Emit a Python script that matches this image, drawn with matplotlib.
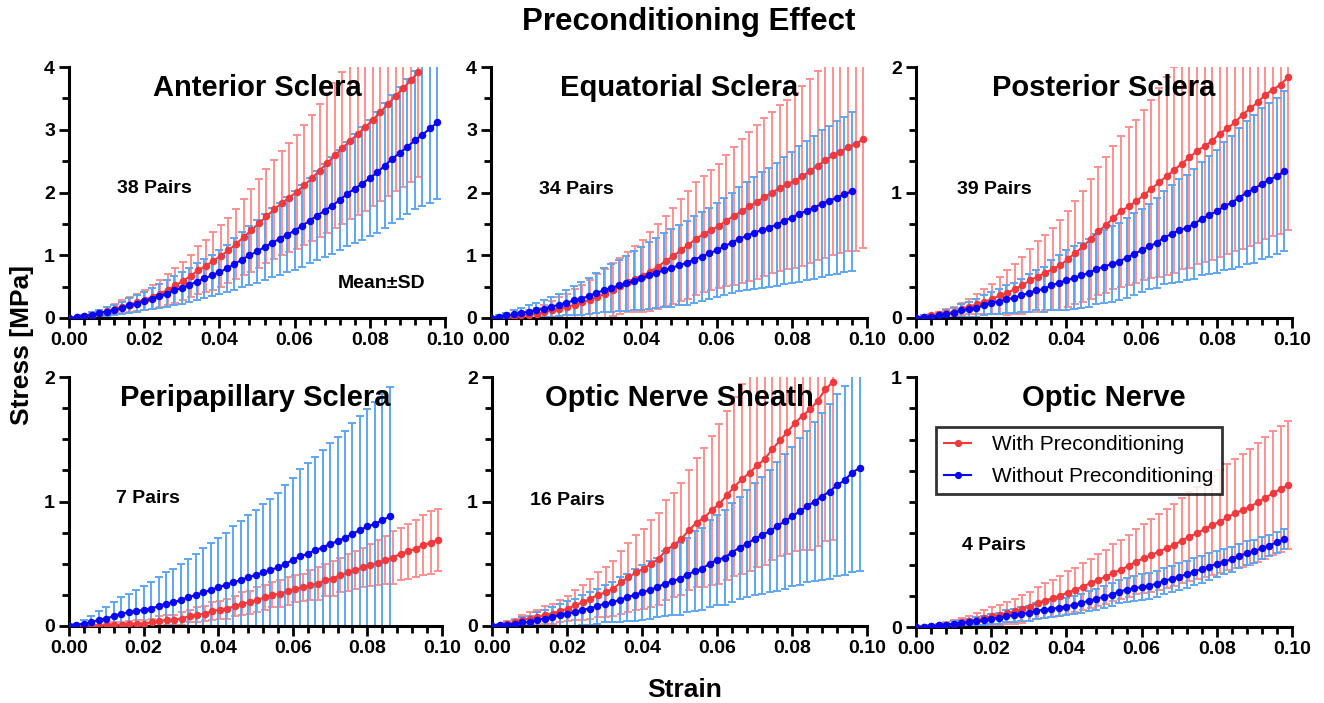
import numpy as np
import matplotlib
matplotlib.use("Agg")
import matplotlib.pyplot as plt
from matplotlib.ticker import MultipleLocator, FixedLocator
from matplotlib.lines import Line2D

plt.rcParams['font.family'] = ['Liberation Sans', 'DejaVu Sans']

# ---------------- data ----------------
# strain sampling grids (blue series sampled every 0.002, red every ~0.00202)
STEP_WITHOUT = 0.002
STEP_WITH = 0.00202

titles = ["Anterior Sclera", "Equatorial Sclera", "Posterior Sclera",
          "Peripapillary Sclera", "Optic Nerve Sheath", "Optic Nerve"]
pairs = ["38 Pairs", "34 Pairs", "39 Pairs", "7 Pairs", "16 Pairs", "4 Pairs"]
y_max = [4, 4, 2, 2, 2, 1]

# Anterior sclera
ant_with_mean = [0.00, 0.01, 0.03, 0.05, 0.08, 0.11, 0.14, 0.18, 0.21, 0.25,
                 0.29, 0.34, 0.39, 0.45, 0.52, 0.59, 0.67, 0.76, 0.83, 0.91,
                 0.99, 1.08, 1.18, 1.29, 1.40, 1.51, 1.62, 1.73, 1.83, 1.92,
                 2.01, 2.12, 2.23, 2.35, 2.47, 2.59, 2.71, 2.82, 2.93, 3.04,
                 3.16, 3.28, 3.41, 3.54, 3.66, 3.79, 3.92]
ant_with_sd = [0.00, 0.01, 0.02, 0.03, 0.05, 0.06, 0.08, 0.10, 0.12, 0.14,
               0.16, 0.19, 0.22, 0.25, 0.28, 0.31, 0.34, 0.38, 0.42, 0.46,
               0.49, 0.52, 0.56, 0.61, 0.66, 0.71, 0.75, 0.79, 0.83, 0.87,
               0.91, 0.96, 1.01, 1.06, 1.11, 1.16, 1.21, 1.25, 1.29, 1.33,
               1.37, 1.42, 1.47, 1.52, 1.57, 1.62, 1.67]
ant_without_mean = [0.00, 0.01, 0.03, 0.05, 0.08, 0.10, 0.13, 0.16, 0.20, 0.23,
                    0.27, 0.31, 0.35, 0.39, 0.44, 0.48, 0.53, 0.58, 0.63, 0.68,
                    0.73, 0.79, 0.86, 0.93, 1.00, 1.06, 1.13, 1.20, 1.26, 1.33,
                    1.39, 1.47, 1.55, 1.63, 1.71, 1.79, 1.88, 1.98, 2.06, 2.14,
                    2.23, 2.32, 2.43, 2.54, 2.63, 2.73, 2.83, 2.92, 3.02, 3.12]
ant_without_sd = [0.00, 0.01, 0.02, 0.04, 0.05, 0.07, 0.08, 0.10, 0.12, 0.13,
                  0.15, 0.17, 0.19, 0.21, 0.23, 0.25, 0.27, 0.29, 0.31, 0.33,
                  0.35, 0.38, 0.41, 0.44, 0.47, 0.50, 0.52, 0.55, 0.58, 0.60,
                  0.63, 0.65, 0.68, 0.71, 0.74, 0.77, 0.80, 0.83, 0.87, 0.90,
                  0.93, 0.96, 0.99, 1.02, 1.05, 1.08, 1.10, 1.14, 1.18, 1.23]

# Equatorial sclera
equ_with_mean = [0.00, 0.00, 0.01, 0.02, 0.04, 0.05, 0.07, 0.09, 0.12, 0.15,
                 0.18, 0.21, 0.25, 0.29, 0.34, 0.39, 0.45, 0.51, 0.57, 0.62,
                 0.67, 0.74, 0.82, 0.91, 0.99, 1.08, 1.17, 1.26, 1.34, 1.40,
                 1.47, 1.55, 1.63, 1.70, 1.78, 1.85, 1.93, 2.00, 2.07, 2.13,
                 2.19, 2.26, 2.34, 2.43, 2.51, 2.59, 2.65, 2.72, 2.77, 2.85]
equ_with_sd = [0.00, 0.01, 0.02, 0.03, 0.05, 0.07, 0.09, 0.12, 0.15, 0.18,
               0.21, 0.25, 0.28, 0.32, 0.36, 0.39, 0.42, 0.45, 0.48, 0.53,
               0.58, 0.63, 0.68, 0.72, 0.76, 0.81, 0.86, 0.90, 0.93, 0.96,
               0.99, 1.04, 1.10, 1.15, 1.19, 1.23, 1.26, 1.29, 1.32, 1.35,
               1.39, 1.43, 1.47, 1.51, 1.55, 1.59, 1.62, 1.66, 1.70, 1.73]
equ_without_mean = [0.00, 0.02, 0.04, 0.06, 0.08, 0.10, 0.12, 0.15, 0.18, 0.21,
                    0.24, 0.28, 0.31, 0.35, 0.40, 0.44, 0.48, 0.52, 0.55, 0.59,
                    0.63, 0.68, 0.72, 0.76, 0.80, 0.84, 0.88, 0.93, 0.98, 1.03,
                    1.08, 1.14, 1.20, 1.26, 1.31, 1.36, 1.40, 1.44, 1.49, 1.55,
                    1.60, 1.66, 1.71, 1.76, 1.82, 1.87, 1.92, 1.97, 2.02]
equ_without_sd = [0.00, 0.02, 0.04, 0.06, 0.08, 0.10, 0.12, 0.14, 0.16, 0.18,
                  0.20, 0.23, 0.26, 0.29, 0.32, 0.35, 0.38, 0.41, 0.44, 0.47,
                  0.50, 0.53, 0.56, 0.59, 0.62, 0.64, 0.67, 0.69, 0.71, 0.73,
                  0.75, 0.78, 0.80, 0.83, 0.86, 0.89, 0.92, 0.95, 0.98, 1.01,
                  1.05, 1.08, 1.11, 1.14, 1.17, 1.19, 1.22, 1.24, 1.27]

# Posterior sclera
pos_with_mean = [0.00, 0.01, 0.02, 0.03, 0.04, 0.05, 0.07, 0.09, 0.11, 0.13,
                 0.15, 0.18, 0.20, 0.23, 0.26, 0.30, 0.33, 0.36, 0.39, 0.42,
                 0.47, 0.52, 0.57, 0.63, 0.69, 0.74, 0.80, 0.85, 0.89, 0.93,
                 0.98, 1.03, 1.08, 1.13, 1.18, 1.23, 1.28, 1.33, 1.37, 1.41,
                 1.47, 1.51, 1.56, 1.62, 1.67, 1.72, 1.78, 1.82, 1.86, 1.92]
pos_with_sd = [0.00, 0.01, 0.01, 0.02, 0.03, 0.04, 0.05, 0.06, 0.08, 0.10,
               0.12, 0.15, 0.18, 0.20, 0.23, 0.25, 0.28, 0.30, 0.33, 0.36,
               0.38, 0.41, 0.44, 0.48, 0.51, 0.54, 0.57, 0.60, 0.63, 0.65,
               0.68, 0.71, 0.75, 0.79, 0.82, 0.84, 0.88, 0.90, 0.92, 0.95,
               0.98, 1.00, 1.03, 1.07, 1.10, 1.12, 1.15, 1.17, 1.19, 1.22]
pos_without_mean = [0.00, 0.01, 0.01, 0.02, 0.03, 0.04, 0.06, 0.07, 0.08, 0.10,
                    0.12, 0.13, 0.15, 0.16, 0.18, 0.20, 0.22, 0.23, 0.26, 0.28,
                    0.30, 0.32, 0.34, 0.36, 0.39, 0.41, 0.43, 0.45, 0.48, 0.51,
                    0.54, 0.57, 0.60, 0.64, 0.67, 0.70, 0.72, 0.75, 0.79, 0.82,
                    0.85, 0.89, 0.92, 0.96, 1.00, 1.03, 1.07, 1.10, 1.13, 1.17]
pos_without_sd = [0.00, 0.01, 0.01, 0.02, 0.03, 0.04, 0.05, 0.06, 0.07, 0.08,
                  0.09, 0.10, 0.11, 0.12, 0.13, 0.15, 0.16, 0.18, 0.20, 0.22,
                  0.24, 0.25, 0.26, 0.27, 0.28, 0.29, 0.30, 0.31, 0.32, 0.33,
                  0.33, 0.34, 0.36, 0.37, 0.39, 0.41, 0.42, 0.44, 0.45, 0.47,
                  0.49, 0.51, 0.53, 0.55, 0.57, 0.59, 0.60, 0.61, 0.62, 0.64]

# Peripapillary sclera
per_with_mean = [0.00, 0.00, 0.00, 0.00, 0.00, 0.01, 0.01, 0.01, 0.02, 0.02,
                 0.02, 0.03, 0.04, 0.05, 0.05, 0.06, 0.08, 0.09, 0.10, 0.12,
                 0.13, 0.14, 0.16, 0.18, 0.19, 0.21, 0.23, 0.25, 0.26, 0.28,
                 0.30, 0.31, 0.33, 0.34, 0.37, 0.38, 0.41, 0.43, 0.45, 0.47,
                 0.49, 0.51, 0.53, 0.55, 0.58, 0.60, 0.62, 0.65, 0.67, 0.69]
per_with_sd = [0.00, 0.00, 0.01, 0.01, 0.01, 0.01, 0.02, 0.02, 0.02, 0.03,
               0.03, 0.03, 0.04, 0.04, 0.04, 0.05, 0.05, 0.06, 0.06, 0.07,
               0.07, 0.08, 0.08, 0.09, 0.09, 0.10, 0.10, 0.10, 0.11, 0.11,
               0.11, 0.11, 0.12, 0.13, 0.13, 0.14, 0.14, 0.15, 0.15, 0.16,
               0.17, 0.18, 0.19, 0.21, 0.21, 0.22, 0.23, 0.24, 0.25, 0.25]
per_without_mean = [0.00, 0.01, 0.02, 0.03, 0.05, 0.06, 0.08, 0.10, 0.11, 0.12,
                    0.13, 0.14, 0.16, 0.18, 0.19, 0.21, 0.23, 0.25, 0.27, 0.29,
                    0.31, 0.33, 0.35, 0.37, 0.39, 0.41, 0.43, 0.45, 0.47, 0.50,
                    0.53, 0.56, 0.58, 0.61, 0.63, 0.66, 0.68, 0.71, 0.74, 0.77,
                    0.80, 0.82, 0.85, 0.88]
per_without_sd = [0.00, 0.01, 0.03, 0.05, 0.07, 0.09, 0.11, 0.13, 0.15, 0.17,
                  0.19, 0.21, 0.23, 0.25, 0.27, 0.29, 0.31, 0.33, 0.36, 0.38,
                  0.40, 0.42, 0.45, 0.47, 0.50, 0.52, 0.55, 0.57, 0.60, 0.63,
                  0.66, 0.70, 0.73, 0.75, 0.78, 0.81, 0.84, 0.86, 0.89, 0.92,
                  0.94, 0.98, 1.01, 1.04]

# Optic nerve sheath
ons_with_mean = [0.00, 0.01, 0.02, 0.03, 0.05, 0.06, 0.07, 0.09, 0.10, 0.12,
                 0.14, 0.17, 0.19, 0.22, 0.25, 0.27, 0.30, 0.35, 0.39, 0.43,
                 0.46, 0.50, 0.54, 0.61, 0.65, 0.70, 0.77, 0.83, 0.87, 0.93,
                 0.98, 1.05, 1.12, 1.18, 1.23, 1.29, 1.34, 1.42, 1.49, 1.56,
                 1.63, 1.69, 1.74, 1.81, 1.90, 1.96]
ons_with_sd = [0.00, 0.01, 0.02, 0.03, 0.04, 0.05, 0.06, 0.07, 0.08, 0.09,
               0.10, 0.12, 0.14, 0.16, 0.18, 0.20, 0.22, 0.25, 0.28, 0.30,
               0.32, 0.35, 0.37, 0.40, 0.42, 0.45, 0.48, 0.52, 0.56, 0.60,
               0.64, 0.68, 0.72, 0.76, 0.79, 0.82, 0.85, 0.89, 0.93, 0.98,
               1.03, 1.08, 1.13, 1.17, 1.22, 1.27]
ons_without_mean = [0.00, 0.01, 0.01, 0.02, 0.03, 0.03, 0.05, 0.06, 0.07, 0.09,
                    0.10, 0.11, 0.13, 0.14, 0.16, 0.18, 0.19, 0.21, 0.23, 0.25,
                    0.27, 0.29, 0.31, 0.34, 0.36, 0.38, 0.41, 0.44, 0.46, 0.50,
                    0.53, 0.55, 0.59, 0.63, 0.66, 0.70, 0.73, 0.76, 0.80, 0.84,
                    0.88, 0.92, 0.96, 1.00, 1.04, 1.08, 1.13, 1.17, 1.23, 1.27]
ons_without_sd = [0.00, 0.01, 0.02, 0.03, 0.04, 0.05, 0.06, 0.07, 0.08, 0.09,
                  0.10, 0.11, 0.12, 0.13, 0.14, 0.15, 0.16, 0.18, 0.19, 0.21,
                  0.22, 0.23, 0.24, 0.26, 0.27, 0.29, 0.30, 0.32, 0.33, 0.35,
                  0.36, 0.38, 0.40, 0.41, 0.43, 0.45, 0.47, 0.49, 0.52, 0.54,
                  0.56, 0.59, 0.61, 0.64, 0.67, 0.70, 0.73, 0.76, 0.80, 0.83]

# Optic nerve
on_with_mean = [0.000, 0.001, 0.003, 0.007, 0.009, 0.013, 0.019, 0.023, 0.029, 0.036,
                0.043, 0.049, 0.056, 0.063, 0.073, 0.082, 0.096, 0.106, 0.116, 0.126,
                0.138, 0.149, 0.162, 0.176, 0.189, 0.202, 0.218, 0.229, 0.245, 0.262,
                0.275, 0.288, 0.302, 0.315, 0.328, 0.346, 0.362, 0.375, 0.392, 0.408,
                0.421, 0.439, 0.455, 0.468, 0.481, 0.499, 0.517, 0.535, 0.552, 0.568]
on_with_sd = [0.000, 0.002, 0.004, 0.007, 0.010, 0.014, 0.018, 0.022, 0.027, 0.032,
              0.037, 0.041, 0.045, 0.050, 0.055, 0.059, 0.064, 0.069, 0.074, 0.080,
              0.085, 0.089, 0.093, 0.098, 0.103, 0.108, 0.113, 0.118, 0.124, 0.131,
              0.138, 0.146, 0.152, 0.158, 0.164, 0.170, 0.177, 0.184, 0.191, 0.198,
              0.206, 0.212, 0.219, 0.226, 0.232, 0.238, 0.244, 0.248, 0.252, 0.255]
on_without_mean = [0.000, 0.001, 0.003, 0.007, 0.009, 0.013, 0.016, 0.020, 0.023, 0.027,
                   0.032, 0.036, 0.043, 0.047, 0.053, 0.056, 0.065, 0.069, 0.072, 0.078,
                   0.082, 0.089, 0.096, 0.106, 0.112, 0.122, 0.129, 0.142, 0.149, 0.156,
                   0.160, 0.166, 0.173, 0.185, 0.193, 0.202, 0.211, 0.222, 0.231, 0.242,
                   0.253, 0.262, 0.271, 0.285, 0.295, 0.304, 0.315, 0.326, 0.339, 0.352]
on_without_sd = [0.000, 0.002, 0.004, 0.006, 0.008, 0.010, 0.012, 0.014, 0.016, 0.018,
                 0.020, 0.022, 0.024, 0.026, 0.028, 0.030, 0.031, 0.032, 0.033, 0.034,
                 0.035, 0.036, 0.038, 0.040, 0.042, 0.044, 0.046, 0.047, 0.048, 0.050,
                 0.051, 0.052, 0.052, 0.053, 0.053, 0.054, 0.054, 0.054, 0.054, 0.053,
                 0.052, 0.051, 0.050, 0.049, 0.048, 0.046, 0.044, 0.042, 0.041, 0.040]

with_data = [(ant_with_mean, ant_with_sd), (equ_with_mean, equ_with_sd),
             (pos_with_mean, pos_with_sd), (per_with_mean, per_with_sd),
             (ons_with_mean, ons_with_sd), (on_with_mean, on_with_sd)]
without_data = [(ant_without_mean, ant_without_sd), (equ_without_mean, equ_without_sd),
                (pos_without_mean, pos_without_sd), (per_without_mean, per_without_sd),
                (ons_without_mean, ons_without_sd), (on_without_mean, on_without_sd)]

legend_labels = ["With Preconditioning", "Without Preconditioning"]

# ---------------- style ----------------
RED = "#f0393c"
RED_ERR = "#ff8f8f"
BLUE = "#0808f2"
BLUE_ERR = "#5ea6f2"

W, H = 1324, 703
fig = plt.figure(figsize=(W / 100, H / 100), dpi=100)

# axes boxes in pixels: (left, right, top, bottom)
boxes = [(69, 445, 67, 318), (491, 867, 67, 318), (916, 1292, 67, 318),
         (69, 442, 377, 626), (492, 867, 377, 626), (916, 1292, 377, 627)]
minor_steps = [0.5, 0.5, 0.25, 0.25, 0.25, 0.125]
pair_pos = [(0.128, 0.517), (0.128, 0.51), (0.11, 0.51),
            (0.126, 0.513), (0.101, 0.506), (0.122, 0.325)]

axes = []
for k in range(6):
    l, r, t, b = boxes[k]
    ax = fig.add_axes([l / W, 1 - b / H, (r - l) / W, (b - t) / H])
    axes.append(ax)

    for (mean, sd), color, ecolor, step in (
            (with_data[k], RED, RED_ERR, STEP_WITH),
            (without_data[k], BLUE, BLUE_ERR, STEP_WITHOUT)):
        n = min(len(mean), len(sd))
        x = np.arange(n) * step
        ax.errorbar(x, mean[:n], yerr=sd[:n], fmt='none', ecolor=ecolor,
                    elinewidth=1.4, capsize=2.6, capthick=1.4, zorder=2)

    for (mean, sd), color, step in ((with_data[k], RED, STEP_WITH),
                                    (without_data[k], BLUE, STEP_WITHOUT)):
        x = np.arange(len(mean)) * step
        ax.plot(x, mean, '-o', color=color, lw=1.5, ms=4.4, mec=color,
                mfc=color, zorder=4)

    ax.set_xlim(0, 0.1)
    ax.set_ylim(0, y_max[k])
    for s in ("top", "right"):
        ax.spines[s].set_visible(False)
    for s in ("left", "bottom"):
        ax.spines[s].set_linewidth(2.2)
    ax.xaxis.set_major_locator(FixedLocator([0, 0.02, 0.04, 0.06, 0.08, 0.10]))
    ax.xaxis.set_minor_locator(MultipleLocator(0.004))
    ax.yaxis.set_major_locator(MultipleLocator(1))
    ax.yaxis.set_minor_locator(MultipleLocator(minor_steps[k]))
    ax.set_xticklabels(["0.00", "0.02", "0.04", "0.06", "0.08", "0.10"])
    ax.tick_params(which='major', direction='out', length=7, width=2.0,
                   labelsize=14, pad=3)
    ax.tick_params(which='minor', direction='out', length=5, width=2.0)
    for lab in ax.get_xticklabels() + ax.get_yticklabels():
        lab.set_fontweight('bold')

    ax.text(0.5, 0.915, titles[k], transform=ax.transAxes, ha='center',
            va='center', fontsize=21, fontweight='bold', zorder=6)
    ax.text(pair_pos[k][0], pair_pos[k][1], pairs[k], transform=ax.transAxes,
            ha='left', va='center', fontsize=14, fontweight='bold')

axes[0].text(0.716, 0.138, "Mean\u00b1SD", transform=axes[0].transAxes,
             ha='left', va='center', fontsize=14, fontweight='bold')

handles = [Line2D([], [], color=RED, marker='o', ms=4.2, lw=1.5),
           Line2D([], [], color=BLUE, marker='o', ms=4.2, lw=1.5)]
leg = axes[5].legend(handles, legend_labels, loc='upper left',
                     bbox_to_anchor=(0.053, 0.80), fontsize=15, frameon=True,
                     fancybox=False, edgecolor='black', handlelength=1.3,
                     handletextpad=1.0, labelspacing=0.6, borderpad=0.4,
                     borderaxespad=0)
leg.get_frame().set_linewidth(2.0)
leg.set_zorder(10)

fig.text(0.52, 0.969, "Preconditioning Effect", ha='center', va='center',
         fontsize=22.5, fontweight='bold')
fig.text(0.0166, 0.509, "Stress [MPa]", ha='center', va='center',
         rotation=90, fontsize=19, fontweight='bold')
fig.text(0.517, 0.0185, "Strain", ha='center', va='center', fontsize=19,
         fontweight='bold')

fig.savefig("out.png", dpi=100)
